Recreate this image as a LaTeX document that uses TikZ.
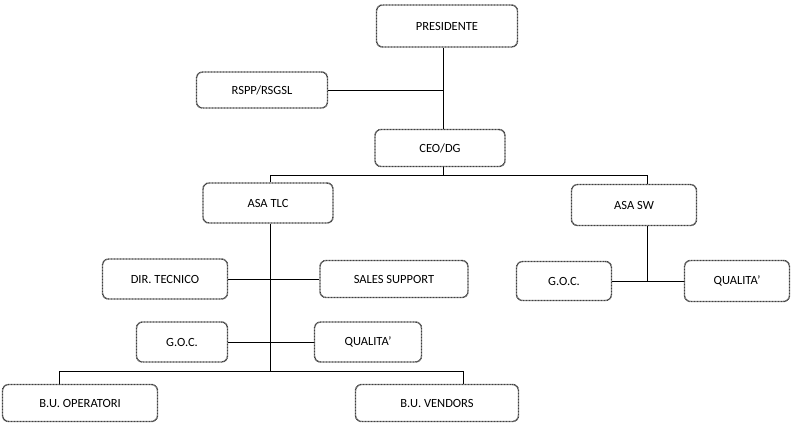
\documentclass[tikz,border=0pt]{standalone}
\usepackage{fontspec}
\setmainfont{Carlito}
\begin{document}
\begin{tikzpicture}[x=1pt,y=-1pt,
  box/.style={draw=black!75, line width=1.4pt, dash pattern=on 1pt off 0.5pt,
    rounded corners=6pt, inner sep=0pt, font=\fontsize{12.5}{14}\selectfont, text=black},
  conn/.style={draw=black, line width=1pt}]
\useasboundingbox (0,0) rectangle (794,424);
\node[box, minimum width=141pt, minimum height=42pt] (pres) at (447,26) {PRESIDENTE};
\node[box, minimum width=131pt, minimum height=36pt] (rspp) at (262,90) {RSPP/RSGSL};
\node[box, minimum width=130pt, minimum height=37pt] (ceo) at (440,148) {CEO/DG};
\node[box, minimum width=130pt, minimum height=40pt] (asatlc) at (268,203) {ASA TLC};
\node[box, minimum width=125pt, minimum height=41pt] (asasw) at (634,205) {ASA SW};
\node[box, minimum width=125pt, minimum height=40pt] (dir) at (165,279) {DIR. TECNICO};
\node[box, minimum width=148pt, minimum height=37pt] (sales) at (394,279) {SALES SUPPORT};
\node[box, minimum width=95pt, minimum height=39pt] (gocb) at (564,281) {G.O.C.};
\node[box, minimum width=105pt, minimum height=41pt] (qualb) at (737,281) {QUALITA'};
\node[box, minimum width=91pt, minimum height=40pt] (goca) at (182,342) {G.O.C.};
\node[box, minimum width=107pt, minimum height=40pt] (quala) at (368,342) {QUALITA'};
\node[box, minimum width=155pt, minimum height=37pt] (buop) at (80,403) {B.U. OPERATORI};
\node[box, minimum width=163pt, minimum height=37pt] (buven) at (437,403) {B.U. VENDORS};
% guide coordinates
\coordinate (t1) at (443,0);
\coordinate (bar1) at (0,175);
\coordinate (tl) at (270,0);
\coordinate (sw) at (647,0);
\coordinate (bar2) at (0,371);
\coordinate (opx) at (59,0);
\coordinate (vex) at (463,0);
% connectors
\draw[conn] (pres.south -| t1) -- (ceo.north -| t1);
\draw[conn] (rspp.east) -- (rspp.east -| t1);
\draw[conn] (ceo.south -| t1) -- (t1 |- bar1);
\draw[conn] (asatlc.north -| tl) -- (tl |- bar1) -- (sw |- bar1) -- (asasw.north -| sw);
\draw[conn] (asatlc.south -| tl) -- (tl |- bar2);
\draw[conn] (dir.east) -- (sales.west);
\draw[conn] (goca.east) -- (quala.west);
\draw[conn] (buop.north -| opx) -- (opx |- bar2) -- (vex |- bar2) -- (buven.north -| vex);
\draw[conn] (asasw.south -| sw) -- (sw |- gocb.east);
\draw[conn] (gocb.east) -- (qualb.west);
\end{tikzpicture}
\end{document}
